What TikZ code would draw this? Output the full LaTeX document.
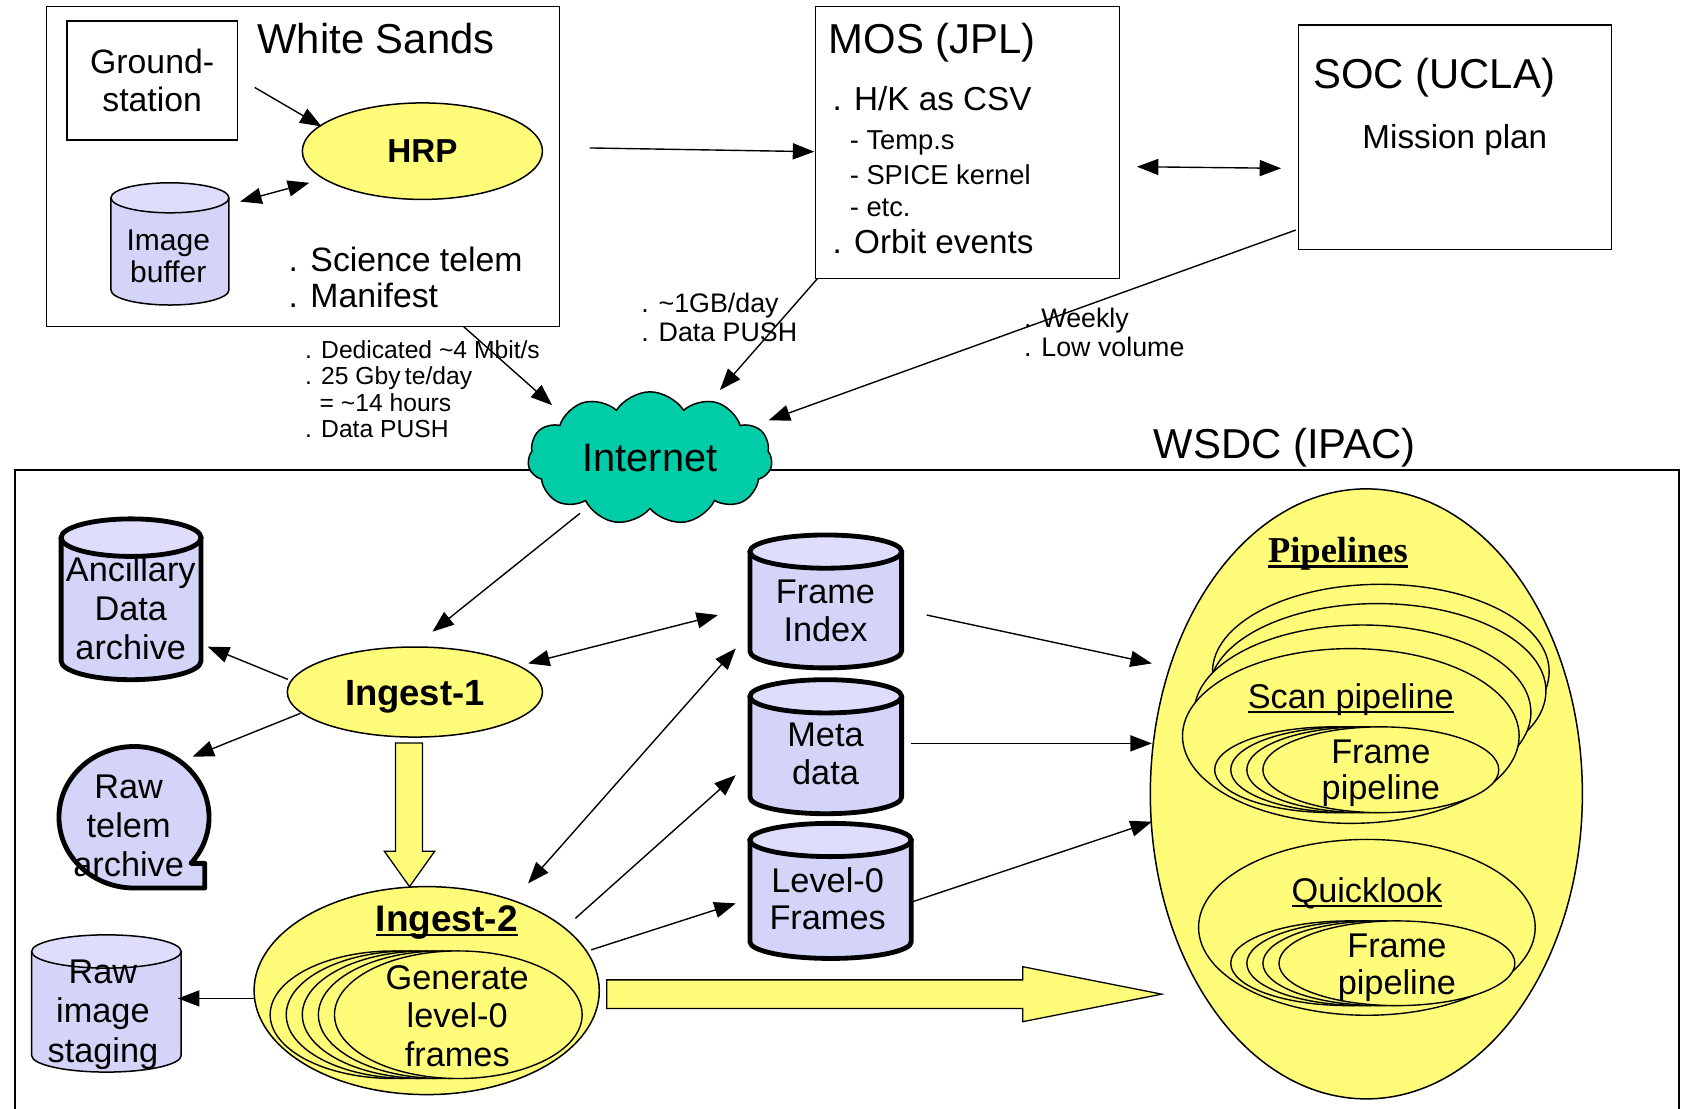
\documentclass[tikz,border=0pt]{standalone}
\usepackage{fontspec}
\setmainfont{Liberation Sans}
\newfontfamily\timesfont{Liberation Serif}
\usetikzlibrary{arrows.meta,shapes.symbols,shapes.geometric}
\definecolor{ylw}{RGB}{255,252,122}
\definecolor{lav}{RGB}{212,212,248}
\definecolor{lavtop}{RGB}{222,222,252}
\definecolor{cloudgreen}{RGB}{0,204,168}
\newcommand\fsz[2]{\fontsize{#1}{#2}\selectfont}
\newcommand\myul[1]{\setbox0\hbox{#1}\rlap{\rule[-0.13em]{\wd0}{0.06em}}\box0}
\newcommand\drawcyl[6]{%
  \pgfmathsetmacro\cylcx{(#1+#3)/2}%
  \pgfmathsetmacro\cylrx{(#3-#1)/2}%
  \filldraw[fill=lav, line width=#6, line join=round] (#1,#2+#5) -- (#1,#4-#5) arc[start angle=180, end angle=0, x radius=\cylrx, y radius=#5] -- (#3,#2+#5) -- cycle;
  \filldraw[fill=lavtop, line width=#6] (\cylcx,#2+#5) ellipse[x radius=\cylrx, y radius=#5];
}
\begin{document}
\begin{tikzpicture}[x=1pt,y=1pt,yscale=-1,
  box/.style={draw, line width=1.4pt, inner sep=0pt},
  ell/.style={ellipse, draw, line width=1.4pt, fill=ylw, inner sep=0pt},
  txt/.style={inner sep=0pt, align=center},
  arr/.style={line width=1.3pt, -{Triangle[length=20pt,width=15pt]}},
  darr/.style={line width=1.3pt, {Triangle[length=20pt,width=15pt]}-{Triangle[length=20pt,width=15pt]}},
  blk/.style={draw, line width=1.2pt, fill=ylw, line join=miter},
  sub/.style={draw, line width=1.3pt, fill=ylw},
]
\clip (0,0) rectangle (1568,1034);
\fill[white] (0,0) rectangle (1568,1034);

% ---------------- White Sands ----------------
\node[box, minimum width=478.4pt, minimum height=298.5pt] (ws) at (282.8,155.45) {};
\node[box, minimum width=158.8pt, minimum height=111pt, font=\fsz{31.5}{35.8}, align=center] (gs) at (141.9,75.1) {Ground-\\station};
\node[txt, anchor=base west, font=\fsz{39}{44}] (wstitle) at (240,50) {White Sands};
\node[ell, minimum width=224pt, minimum height=90pt, font=\bfseries\fsz{31}{34}] (hrp) at (394,141) {HRP};
\drawcyl{103.5}{170.5}{213.5}{284.5}{14}{1.4pt}
\node[txt, font=\fsz{28}{29.4}] (buf) at (157,239) {Image\\buffer};
\node[txt, anchor=west, align=left, font=\fsz{31.5}{33.5}] (wsnotes) at (269,259) {. Science telem\\. Manifest};

% ---------------- MOS ----------------
\node[box, minimum width=283.8pt, minimum height=253.4pt] (mos) at (902.5,132.9) {};
\node[txt, anchor=base west, font=\fsz{39}{44}] (mostitle) at (773,50) {MOS (JPL)};
\node[txt, anchor=base west, font=\fsz{31}{34}] (hk) at (776.5,102.8) {. H/K as CSV};
\node[txt, anchor=base west, font=\fsz{25.5}{28}] (temp) at (792.5,139.7) {- Temp.s};
\node[txt, anchor=base west, font=\fsz{25.5}{28}] (spice) at (792.5,172.3) {- SPICE kernel};
\node[txt, anchor=base west, font=\fsz{25.5}{28}] (etc) at (792.5,201.9) {- etc.};
\node[txt, anchor=base west, font=\fsz{31}{34}] (orbit) at (776.5,236.5) {. Orbit events};

% ---------------- SOC ----------------
\node[box, minimum width=292pt, minimum height=209.3pt] (soc) at (1357,128.15) {};
\node[txt, anchor=base west, font=\fsz{39}{44}] (soctitle) at (1225,83) {SOC (UCLA)};
\node[txt, anchor=base, font=\fsz{31}{34}] (mplan) at (1357,138.6) {Mission plan};

% ---------------- link labels ----------------
\node[txt, anchor=west, align=left, font=\fsz{23}{24.4}] (lab1) at (284.5,363) {. Dedicated \textasciitilde 4 Mbit/s\\. 25 Gby\kern4pt te/day\\\hspace*{13.5pt}= \textasciitilde 14 hours\\. Data PUSH};
\node[txt, anchor=west, align=left, font=\fsz{25}{26.4}] (lab2) at (598,296.2) {. \textasciitilde 1GB/day\\. Data PUSH};
\node[txt, anchor=west, align=left, font=\fsz{25}{27}] (lab3) at (955,310.5) {. Weekly\\. Low volume};

% ---------------- WSDC ----------------
\node[box, minimum width=1552pt, minimum height=621.5pt] (wsdc) at (790,749.25) {};
\node[txt, anchor=base west, font=\fsz{39}{44}] (wsdctitle) at (1076,427.5) {WSDC (IPAC)};

% ---------------- Internet ----------------
\node[cloud, cloud puffs=11, cloud puff arc=115, cloud ignores aspect, draw, line width=1.4pt, fill=cloudgreen, minimum width=228pt, minimum height=124pt, inner sep=0pt, font=\fsz{37}{40}] (net) at (606.3,427.5) {Internet};

% ---------------- archives ----------------
\drawcyl{57}{484}{187.5}{634}{17.5}{4.5pt}
\node[txt, font=\fsz{32}{36.5}] (anc) at (122,567) {Ancillary\\Data\\archive};
\filldraw[fill=lav, line width=4.5pt, line join=round] (178.1,805.3) arc[start angle=40.66, end angle=-270, x radius=70, y radius=66] -- (191,828.3) -- (191,805.3) -- cycle;
\node[txt, font=\fsz{32}{36.5}] (rawt) at (120,770.3) {Raw\\telem\\archive};
\drawcyl{29.5}{872}{169}{1000}{15.5}{1.4pt}
\node[txt, font=\fsz{32}{37}] (rawi) at (96,946.4) {Raw\\image\\staging};

% ---------------- Ingest ----------------
\node[ell, minimum width=238pt, minimum height=84pt, font=\bfseries\fsz{34}{38}, text height=24.3pt, text depth=0pt] (ing1) at (387,645.5) {Ingest-1};
\filldraw[blk] (369,693) -- (394,693) -- (394,794) -- (405.5,794) -- (382,827) -- (358.5,794) -- (369,794) -- cycle;
\node[ell, minimum width=322pt, minimum height=194pt] (ing2) at (398,924) {};
\filldraw[sub] (367.5,946.5) ellipse[x radius=115.5, y radius=59.5];
\filldraw[sub] (382.5,946.5) ellipse[x radius=115.5, y radius=59.5];
\filldraw[sub] (397.5,946.5) ellipse[x radius=115.5, y radius=59.5];
\filldraw[sub] (412.5,946.5) ellipse[x radius=115.5, y radius=59.5];
\node[ell, line width=1.3pt, minimum width=231pt, minimum height=119pt] (gen0) at (427.5,946.5) {};
\node[txt, anchor=base, font=\bfseries\fsz{34.5}{38}] (ing2t) at (416.8,869) {\myul{Ingest-2}};
\node[txt, font=\fsz{32}{36}] (gen) at (426.5,947.6) {Generate\\level-0\\frames};

% ---------------- stores ----------------
\drawcyl{699.5}{499}{841}{623}{15.5}{4.5pt}
\node[txt, font=\fsz{32}{35.7}] (fi) at (770,569.6) {Frame\\Index};
\drawcyl{699.5}{634}{841}{759}{15.5}{4.5pt}
\node[txt, font=\fsz{32}{35.7}] (meta) at (770,703.5) {Meta\\data};
\drawcyl{699.5}{768}{850}{894}{15.5}{4.5pt}
\node[txt, font=\fsz{32}{34.5}] (l0) at (772,838) {Level-0\\Frames};

% ---------------- Pipelines ----------------
\node[ell, minimum width=403pt, minimum height=569pt] (pipe) at (1274.5,740.5) {};
\node[txt, anchor=base, font=\timesfont\bfseries\fsz{34}{38}] (pipet) at (1248,525) {\myul{Pipelines}};
\filldraw[sub] (1288,626.5) ellipse[x radius=157, y radius=81.5];
\filldraw[sub] (1285,644.5) ellipse[x radius=157, y radius=81.5];
\filldraw[sub] (1271,664.5) ellipse[x radius=157, y radius=81.5];
\node[ell, line width=1.3pt, minimum width=314pt, minimum height=163pt] (scan) at (1260,686.5) {};
\node[txt, anchor=base, font=\fsz{32}{36}] (scant) at (1260,661) {\myul{Scan pipeline}};
\filldraw[sub] (1243,718) ellipse[x radius=110, y radius=40];
\filldraw[sub] (1258,718) ellipse[x radius=110, y radius=40];
\filldraw[sub] (1273,718) ellipse[x radius=110, y radius=40];
\node[ell, line width=1.3pt, minimum width=220pt, minimum height=80pt] (sfr) at (1288,718) {};
\node[txt, font=\fsz{32}{34}] (sfp) at (1288,721.4) {Frame\\pipeline};
\node[ell, line width=1.3pt, minimum width=314pt, minimum height=164pt] (ql) at (1275,865) {};
\node[txt, anchor=base, font=\fsz{32}{36}] (qlt) at (1275,842) {\myul{Quicklook}};
\filldraw[sub] (1258,898.5) ellipse[x radius=110, y radius=39.5];
\filldraw[sub] (1273,898.5) ellipse[x radius=110, y radius=39.5];
\filldraw[sub] (1288,898.5) ellipse[x radius=110, y radius=39.5];
\node[ell, line width=1.3pt, minimum width=220pt, minimum height=79pt] (qfr) at (1303,898.5) {};
\node[txt, font=\fsz{32}{35}] (qfp) at (1303,902.6) {Frame\\pipeline};

% big arrow Ingest-2 -> Pipelines
\filldraw[blk] (566,914) -- (954,914) -- (954,901.7) -- (1083.6,927.3) -- (954,953) -- (954,940.6) -- (566,940.6) -- cycle;

% ---------------- connector end points ----------------
\coordinate (gs-o) at (237.5,81.5);   \coordinate (hrp-i) at (300,118);
\coordinate (buf-e) at (224,188);     \coordinate (hrp-b) at (288.5,170.5);
\coordinate (ws-e) at (550,138);      \coordinate (mos-w) at (759.5,141.5);
\coordinate (mos-e) at (1060.5,155.5);\coordinate (soc-w) at (1195,157);
\coordinate (ws-s) at (432.5,304.7);  \coordinate (net-a) at (515,378);
\coordinate (mos-s) at (762.4,260);   \coordinate (net-b) at (671.6,363.8);
\coordinate (soc-s) at (1208.6,214.6);\coordinate (net-c) at (717,392);
\coordinate (net-s) at (541,478.8);   \coordinate (ing1-n) at (403.4,589.2);
\coordinate (ing1-a) at (268.5,633.7);\coordinate (anc-e) at (193.8,603.2);
\coordinate (ing1-b) at (280.2,665.4);\coordinate (rawt-e) at (179.6,705.8);
\coordinate (ing1-c) at (492.6,618.8);\coordinate (fi-a) at (669.7,573.7);
\coordinate (ing2-a) at (492.6,824);  \coordinate (fi-b) at (686.3,604.8);
\coordinate (ing2-b) at (536.7,856.6);\coordinate (meta-w) at (686.3,723);
\coordinate (ing2-c) at (551.4,886);  \coordinate (l0-w) at (686.3,842.6);
\coordinate (ing2-w) at (238,931.3);  \coordinate (rawi-e) at (166,931.3);
\coordinate (fi-e) at (864.5,573.7);  \coordinate (pipe-a) at (1074.4,618.8);
\coordinate (meta-e) at (849.5,693.4);\coordinate (pipe-b) at (1074.4,693.4);
\coordinate (l0-e) at (851.2,841.1);  \coordinate (pipe-c) at (1074.4,766.5);

% ---------------- connectors ----------------
\draw[arr] (gs-o) -- (hrp-i);
\draw[darr] (buf-e) -- (hrp-b);
\draw[arr] (ws-e) -- (mos-w);
\draw[darr] (mos-e) -- (soc-w);
\draw[arr] (ws-s) -- (net-a);
\draw[arr] (mos-s) -- (net-b);
\draw[arr] (soc-s) -- (net-c);
\draw[arr] (net-s) -- (ing1-n);
\draw[arr] (ing1-a) -- (anc-e);
\draw[arr] (ing1-b) -- (rawt-e);
\draw[darr] (ing1-c) -- (fi-a);
\draw[darr] (ing2-a) -- (fi-b);
\draw[arr] (ing2-b) -- (meta-w);
\draw[arr] (ing2-c) -- (l0-w);
\draw[arr] (ing2-w) -- (rawi-e);
\draw[arr] (fi-e) -- (pipe-a);
\draw[arr] (meta-e) -- (pipe-b);
\draw[arr] (l0-e) -- (pipe-c);
\end{tikzpicture}
\end{document}
